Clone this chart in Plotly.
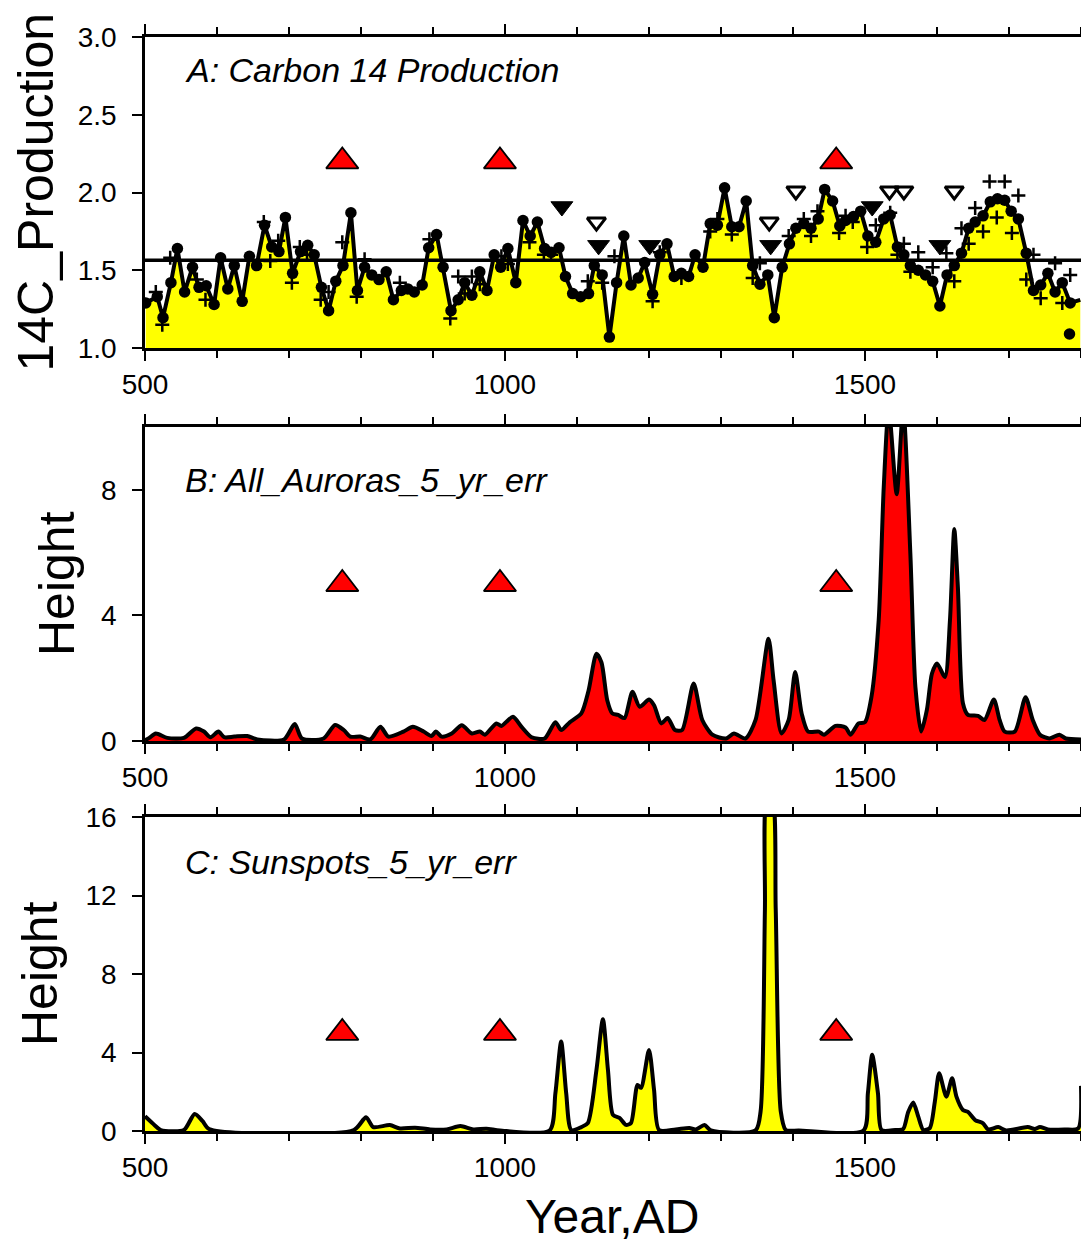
import plotly.graph_objects as go
from plotly.subplots import make_subplots

# ---------------- Panel A: Carbon 14 production ----------------
a_years = [501, 517, 525, 536, 545, 555, 566, 575, 585, 596,
           605, 615, 624, 635, 645, 655, 666, 676, 686, 695,
           705, 716, 726, 735, 745, 755, 765, 775, 786, 795,
           805, 815, 825, 835, 845, 856, 865, 874, 885, 894,
           905, 914, 925, 935, 944, 954, 965, 975, 985, 994,
           1004, 1015, 1025, 1035, 1045, 1055, 1064, 1075, 1084, 1094,
           1105, 1116, 1124, 1135, 1145, 1155, 1165, 1175, 1185, 1194,
           1205, 1215, 1225, 1235, 1245, 1255, 1264, 1275, 1285, 1295,
           1305, 1315, 1325, 1335, 1344, 1354, 1365, 1374, 1385, 1395,
           1404, 1415, 1425, 1435, 1444, 1455, 1465, 1473, 1484, 1494,
           1504, 1515, 1526, 1535, 1545, 1554, 1563, 1574, 1584, 1594,
           1604, 1614, 1624, 1634, 1644, 1653, 1664, 1674, 1684, 1694,
           1703, 1713, 1724, 1734, 1744, 1754, 1764, 1774, 1785, 1799]
a_vals = [1.29, 1.33, 1.195, 1.42, 1.64, 1.36, 1.52, 1.39, 1.40, 1.28,
          1.58, 1.38, 1.53, 1.30, 1.59, 1.53, 1.79, 1.65, 1.62, 1.84,
          1.48, 1.62, 1.66, 1.60, 1.39, 1.24, 1.43, 1.53, 1.87, 1.37,
          1.52, 1.47, 1.44, 1.49, 1.31, 1.37, 1.38, 1.36, 1.405, 1.645,
          1.73, 1.52, 1.24, 1.31, 1.42, 1.34, 1.49, 1.37, 1.60, 1.52,
          1.64, 1.42, 1.82, 1.72, 1.81, 1.64, 1.615, 1.645, 1.46, 1.35,
          1.33, 1.35, 1.53, 1.47, 1.07, 1.42, 1.72, 1.405, 1.45, 1.55,
          1.345, 1.60, 1.67, 1.46, 1.48, 1.46, 1.60, 1.52, 1.80, 1.79,
          2.03, 1.78, 1.78, 1.945, 1.53, 1.41, 1.47, 1.195, 1.52, 1.67,
          1.77, 1.80, 1.77, 1.83, 2.02, 1.945, 1.785, 1.82, 1.845, 1.88,
          1.72, 1.68, 1.83, 1.855, 1.65, 1.60, 1.53, 1.50, 1.47, 1.43,
          1.27, 1.47, 1.53, 1.61, 1.77, 1.81, 1.85, 1.94, 1.96, 1.95,
          1.88, 1.83, 1.61, 1.37, 1.405, 1.48, 1.36, 1.42, 1.29, 1.31]

cross_years = [515, 524, 535, 572, 584, 665, 674, 685, 704, 715, 725, 744, 755, 774,
               794, 805, 854, 895, 924, 935, 944, 954, 965, 995, 1004, 1034, 1054,
               1064, 1115, 1135, 1152, 1205, 1215, 1245, 1285, 1295, 1315, 1344, 1354,
               1394, 1415, 1425, 1434, 1464, 1473, 1483, 1503, 1515, 1535, 1545, 1554,
               1563, 1574, 1594, 1613, 1624, 1634, 1644, 1653, 1664, 1673, 1683, 1694,
               1704, 1713, 1724, 1734, 1744, 1764, 1774, 1785]
cross_vals = [1.36, 1.15, 1.58, 1.44, 1.31, 1.81, 1.56, 1.69, 1.42, 1.65, 1.60, 1.31, 1.36, 1.68,
              1.33, 1.57, 1.42, 1.70, 1.19, 1.46, 1.35, 1.46, 1.41, 1.59, 1.54, 1.68, 1.60,
              1.60, 1.43, 1.42, 1.59, 1.30, 1.615, 1.45, 1.75, 1.83, 1.73, 1.45, 1.545,
              1.72, 1.83, 1.72, 1.88, 1.74, 1.85, 1.81, 1.65, 1.79, 1.87, 1.60, 1.67,
              1.49, 1.615, 1.52, 1.61, 1.43, 1.77, 1.67, 1.90, 1.75, 2.07, 1.84, 2.07,
              1.74, 1.98, 1.44, 1.60, 1.32, 1.545, 1.29, 1.47]

extra_dot_year = [1784]
extra_dot_val = [1.09]

mean_level = 1.565

filled_down_years = [1079, 1130, 1201, 1369, 1510, 1604]
filled_down_vals = [1.91, 1.66, 1.66, 1.66, 1.91, 1.66]
open_down_years = [1127, 1367, 1404, 1534, 1554, 1624]
open_down_vals = [1.81, 1.81, 2.01, 2.01, 2.01, 2.01]

event_years = [774, 993, 1460]
event_level_a = 2.2
event_level_b = 5.0
event_level_c = 5.0

# ---------------- Panel B: All auroras ----------------
b_years = [500, 506, 515, 531, 554, 571, 582, 591, 602, 610, 624, 642, 656, 693, 708, 718,
           748, 764, 776, 785, 799, 813, 827, 838, 859, 872, 887, 898, 904, 912, 926, 940,
           954, 965, 972, 988, 995, 1011, 1023, 1037, 1055, 1070, 1078, 1090, 1106, 1116,
           1127, 1134, 1142, 1149, 1157, 1166, 1177, 1187, 1200, 1207, 1217, 1226, 1236,
           1246, 1262, 1274, 1288, 1307, 1318, 1334, 1348, 1366, 1373, 1384, 1394, 1403,
           1412, 1421, 1436, 1443, 1459, 1473, 1480, 1491, 1500, 1509, 1519, 1526, 1533,
           1544, 1553, 1563, 1570, 1578, 1586, 1593, 1600, 1611, 1618, 1624, 1629, 1636,
           1643, 1657, 1666, 1679, 1687, 1694, 1708, 1723, 1733, 1743, 1756, 1770, 1779, 1800]
b_vals = [0.02, 0.10, 0.24, 0.10, 0.10, 0.40, 0.30, 0.12, 0.30, 0.12, 0.14, 0.16, 0.05, 0.05, 0.54, 0.08,
          0.08, 0.51, 0.35, 0.14, 0.14, 0.05, 0.45, 0.14, 0.30, 0.45, 0.30, 0.16, 0.30, 0.14, 0.24, 0.50,
          0.24, 0.30, 0.20, 0.56, 0.48, 0.77, 0.45, 0.12, 0.08, 0.60, 0.35, 0.60, 0.88, 1.60,
          2.78, 2.50, 1.30, 0.88, 0.83, 0.73, 1.57, 1.09, 1.32, 1.14, 0.56, 0.73, 0.35,
          0.35, 1.83, 0.67, 0.20, 0.08, 0.24, 0.08, 0.67, 3.26, 1.94, 0.24, 0.67, 2.20,
          0.88, 0.30, 0.30, 0.20, 0.48, 0.43, 0.20, 0.56, 0.60, 1.41, 3.84, 8.07, 10.6,
          7.86, 10.6, 5.96, 1.72, 0.30, 1.00, 2.15, 2.47, 2.04, 3.84, 6.75, 4.90, 1.20,
          0.83, 0.80, 0.67, 1.32, 0.67, 0.30, 0.30, 1.39, 0.67, 0.20, 0.08, 0.20, 0.08, 0.05]

# ---------------- Panel C: Sunspots ----------------
c_years = [500, 513, 522, 554, 569, 580, 589, 790, 807, 817, 840, 854, 875, 896, 919, 938,
           956, 974, 993, 1062, 1070, 1078, 1085, 1092, 1106, 1115, 1127, 1136, 1143, 1150,
           1159, 1168, 1175, 1184, 1189, 1200, 1207, 1214, 1237, 1256, 1265, 1277, 1286,
           1348, 1355, 1361, 1364, 1371, 1376, 1383, 1390, 1408, 1498, 1504, 1510, 1518,
           1523, 1542, 1553, 1560, 1567, 1574, 1581, 1590, 1597, 1603, 1613, 1621, 1627,
           1636, 1643, 1653, 1664, 1671, 1685, 1696, 1726, 1736, 1743, 1754, 1777, 1796, 1800]
c_vals = [0.75, 0.31, 0.05, 0.05, 0.87, 0.50, 0.10, 0.05, 0.70, 0.20, 0.30, 0.13, 0.17, 0.08, 0.08, 0.25,
          0.08, 0.12, 0.03, 0.03, 1.92, 4.56, 1.92, 0.05, 0.20, 0.40, 3.11, 5.70, 3.11, 0.82,
          0.67, 0.31, 0.41, 2.35, 2.20, 4.13, 2.10, 0.05, 0.08, 0.15, 0.08, 0.30, 0.03,
          0.03, 1.00, 11.3, 17.0, 17.0, 11.3, 1.00, 0.05, 0.03, 0.03, 1.92, 3.88, 1.92,
          0.05, 0.05, 0.10, 0.97, 1.45, 0.73, 0.05, 0.15, 1.50, 2.94, 1.75, 2.69, 1.75,
          1.07, 0.97, 0.56, 0.39, 0.08, 0.20, 0.03, 0.20, 0.10, 0.20, 0.08, 0.08, 0.13, 2.30]

x_range = [500, 1800]
FONT = "Liberation Sans, Arial, Helvetica, sans-serif"

# page body has an 8px default margin: size the figure so it fits the window
FIG_W, FIG_H = 1073, 1237
L, R, T, B = 137, 0, 29, 114
PLOT_W = FIG_W - L - R
PLOT_H = FIG_H - T - B

fig = make_subplots(rows=3, cols=1, shared_xaxes=False, vertical_spacing=0.0)

# Panel A traces
fig.add_trace(go.Scatter(x=a_years, y=a_vals, mode="lines", fill="tozeroy",
                         fillcolor="#FFFF00", line=dict(color="black", width=4),
                         showlegend=False, hoverinfo="skip"), row=1, col=1)
fig.add_trace(go.Scatter(x=cross_years, y=cross_vals, mode="markers",
                         marker=dict(symbol="cross-thin", size=10, line=dict(color="black", width=2.5)),
                         showlegend=False), row=1, col=1)
fig.add_trace(go.Scatter(x=a_years[:-1], y=a_vals[:-1], mode="markers",
                         marker=dict(symbol="circle", size=11.5, color="black"),
                         showlegend=False), row=1, col=1)
fig.add_trace(go.Scatter(x=extra_dot_year, y=extra_dot_val, mode="markers",
                         marker=dict(symbol="circle", size=11.5, color="black"),
                         showlegend=False), row=1, col=1)
fig.add_trace(go.Scatter(x=x_range, y=[mean_level, mean_level], mode="lines",
                         line=dict(color="black", width=3.5), showlegend=False), row=1, col=1)
fig.add_trace(go.Scatter(x=filled_down_years, y=filled_down_vals, mode="markers",
                         marker=dict(symbol="triangle-down", size=19, color="black",
                                     line=dict(color="black", width=1)),
                         showlegend=False), row=1, col=1)
fig.add_trace(go.Scatter(x=open_down_years, y=open_down_vals, mode="markers",
                         marker=dict(symbol="triangle-down-open", size=16, color="black",
                                     line=dict(color="black", width=3)),
                         showlegend=False), row=1, col=1)

tri = dict(symbol="triangle-up", size=28, color="#FF0000", line=dict(color="black", width=1.8))
fig.add_trace(go.Scatter(x=event_years, y=[event_level_a] * len(event_years), mode="markers",
                         marker=tri, showlegend=False), row=1, col=1)

# Panel B
fig.add_trace(go.Scatter(x=b_years, y=b_vals, mode="lines", fill="tozeroy",
                         fillcolor="#FF0000", line=dict(color="black", width=4, shape="spline", smoothing=0.7),
                         showlegend=False), row=2, col=1)
fig.add_trace(go.Scatter(x=event_years, y=[event_level_b] * len(event_years), mode="markers",
                         marker=tri, showlegend=False), row=2, col=1)

# Panel C
fig.add_trace(go.Scatter(x=c_years, y=c_vals, mode="lines", fill="tozeroy",
                         fillcolor="#FFFF00", line=dict(color="black", width=4, shape="spline", smoothing=0.7),
                         showlegend=False), row=3, col=1)
fig.add_trace(go.Scatter(x=event_years, y=[event_level_c] * len(event_years), mode="markers",
                         marker=tri, showlegend=False), row=3, col=1)

axis_common = dict(showline=True, linecolor="black", linewidth=2.5, mirror="allticks",
                   ticks="outside", tickcolor="black", tickwidth=2, ticklen=10,
                   showgrid=False, zeroline=False, automargin=False,
                   tickfont=dict(family=FONT, size=28, color="black"))

# panel pixel extents (page coords) -> domains
panel_px = [(37, 348), (427, 741), (817, 1131)]
page_top, page_bottom = 37, 1131
domains = [[(page_bottom - b) / (page_bottom - page_top), (page_bottom - t) / (page_bottom - page_top)]
           for t, b in panel_px]
for i in range(3):
    xname = "xaxis" if i == 0 else f"xaxis{i+1}"
    yname = "yaxis" if i == 0 else f"yaxis{i+1}"
    fig.layout[xname].update(range=x_range, tickvals=[500, 1000, 1500], **axis_common,
                             minor=dict(dtick=100, tick0=500, ticks="outside", ticklen=7,
                                        tickwidth=1.5, tickcolor="black"))
    fig.layout[yname].update(domain=domains[i], ticklabelstandoff=10, **axis_common)

fig.layout.yaxis.update(range=[1.0, 3.0], tickvals=[1.0, 1.5, 2.0, 2.5, 3.0], tickformat=".1f")
fig.layout.yaxis2.update(range=[0, 10], tickvals=[0, 4, 8])
fig.layout.yaxis3.update(range=[0, 16], tickvals=[0, 4, 8, 12, 16])

# Panel labels
title_font = dict(family=FONT, size=34, color="black")
fig.add_annotation(text="<i>A: Carbon 14 Production</i>", xref="x domain", yref="y domain",
                   x=(183 - 145) / PLOT_W, y=0.894, xanchor="left", yanchor="middle",
                   showarrow=False, font=title_font)
fig.add_annotation(text="<i>B: All_Auroras_5_yr_err</i>", xref="x2 domain", yref="y2 domain",
                   x=(183 - 145) / PLOT_W, y=0.83, xanchor="left", yanchor="middle",
                   showarrow=False, font=title_font)
fig.add_annotation(text="<i>C: Sunspots_5_yr_err</i>", xref="x3 domain", yref="y3 domain",
                   x=(183 - 145) / PLOT_W, y=0.858, xanchor="left", yanchor="middle",
                   showarrow=False, font=title_font)

big_font = dict(family=FONT, size=50, color="black")
fig.add_annotation(text="14C_Production", xref="paper", yref="y domain", x=(35 - 145) / PLOT_W, y=0.5,
                   textangle=-90, xanchor="center", yanchor="middle", showarrow=False, font=big_font)
fig.add_annotation(text="Height", xref="paper", yref="y2 domain", x=(57 - 145) / PLOT_W, y=0.5,
                   textangle=-90, xanchor="center", yanchor="middle", showarrow=False, font=big_font)
fig.add_annotation(text="Height", xref="paper", yref="y3 domain", x=(40 - 145) / PLOT_W, y=0.5,
                   textangle=-90, xanchor="center", yanchor="middle", showarrow=False, font=big_font)
fig.add_annotation(text="Year,AD", xref="paper", yref="paper", x=(612 - 145) / PLOT_W,
                   y=-(1216 - 1131) / PLOT_H, xanchor="center", yanchor="middle",
                   showarrow=False, font=dict(family=FONT, size=48, color="black"))

fig.update_layout(width=FIG_W, height=FIG_H, margin=dict(l=L, r=R, t=T, b=B, autoexpand=False),
                  plot_bgcolor="white", paper_bgcolor="white", showlegend=False,
                  font=dict(family=FONT))

fig.write_html("out.html")
